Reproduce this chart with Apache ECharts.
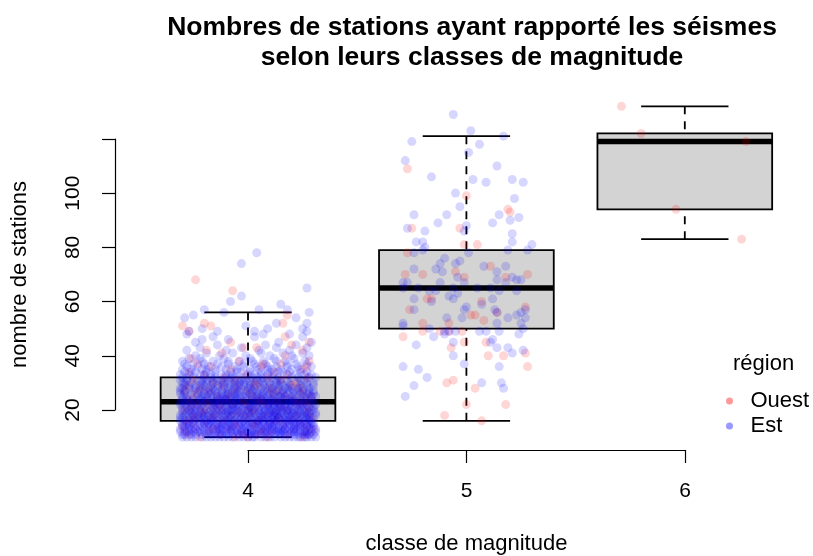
<!DOCTYPE html>
<html>
<head>
<meta charset="utf-8">
<script src="https://cdn.jsdelivr.net/npm/echarts@6/dist/echarts.min.js"></script>
<style>
html, body { margin: 0; background: #fff; }
#chart { width: 813px; height: 556px; }
</style>
</head>
<body>
<div id="chart"></div>
<script>
// classes de magnitude et statistiques des boites
var classes = [4, 5, 6];
var basMoustache = [10, 16, 83];
var q1 = [16, 50, 94];
var mediane = [23, 65, 119];
var q3 = [32, 79, 122];
var hautMoustache = [56, 121, 132];
var yTicks = [20, 40, 60, 80, 100, 120];
var xTicks = [4, 5, 6];

// points : [nombre de stations, decalages du jitter en centiemes de classe...]
var est4 = [
	[10,-28,-19,-11,-4,3,12,21,29,-24,-7,8,17,26,-15,0,-30,24],
	[11,-26,-17,-9,-2,6,14,23,30,-21,-13,1,10,19,27,-29,-5,4,15,-12,25],
	[12,-31,-22,-14,-6,2,9,18,26,-27,-18,-3,5,13,22,29,-10,-1,11,20,-25,7,16],
	[13,-29,-20,-12,-5,1,10,17,24,31,-24,-16,-8,4,14,21,28,-2,8,-26,19,-14,12],
	[14,-30,-23,-15,-7,0,8,16,25,-27,-19,-10,3,11,20,28,-4,6,-12,23,14,-21],
	[15,-28,-18,-11,-3,5,13,22,30,-25,-14,-6,2,10,19,27,-20,7,16,-1,24],
	[16,-31,-24,-16,-9,0,7,15,23,29,-27,-19,-12,-4,4,12,20,26,-7,9,-22,17],
	[17,-27,-20,-13,-5,3,11,18,27,-30,-23,-8,1,9,16,25,-16,6,21,-11,14],
	[18,-29,-21,-14,-6,1,9,17,24,31,-25,-10,-2,6,13,22,28,-18,11,-4,19],
	[19,-26,-18,-10,-3,5,12,20,28,-30,-22,-14,2,10,18,26,-7,15,-16,23],
	[20,-30,-22,-15,-7,0,8,16,25,-26,-19,-11,-3,5,13,21,29,-8,11,19],
	[21,-28,-20,-12,-4,3,10,18,26,-24,-16,-7,1,9,17,24,-2,14,30],
	[22,-31,-23,-15,-8,2,9,17,27,-26,-18,-10,-1,7,15,22,12,-5],
	[23,-27,-19,-11,-3,4,12,21,28,-29,-21,-13,-6,3,10,19,25,-16],
	[24,-30,-21,-13,-5,2,11,19,27,-25,-17,-8,0,8,16,24,-10,6],
	[25,-28,-19,-10,-2,6,14,22,29,-23,-14,-6,4,12,20,-1,26],
	[26,-26,-17,-9,-1,7,15,24,30,-29,-20,-12,1,10,18,27,-5],
	[27,-31,-22,-12,-4,4,13,21,28,-25,-15,-7,2,11,19,25],
	[28,-27,-18,-9,0,8,17,25,-30,-21,-11,-3,6,14,23],
	[29,-29,-20,-11,-2,7,16,24,30,-24,-14,-6,3,12],
	[30,-26,-16,-8,1,10,19,27,-30,-21,-12,-4,5,15],
	[31,-28,-19,-9,-1,9,18,26,-23,-14,-5,4,13],
	[32,-30,-20,-10,2,11,20,28,-25,-15,-6,7],
	[33,-27,-17,-7,3,12,22,29,-22,-12,6],
	[34,-29,-19,-8,1,10,19,27,-24,-3,14],
	[35,-26,-15,-5,5,15,24,-21,-10,9],
	[36,-28,-18,-6,4,13,23,-12,29],
	[37,-25,-14,-2,8,18,27,-20],
	[38,-30,-16,-4,7,17,26],
	[39,-22,-11,1,12,21,-27],
	[40,-24,-13,-1,10,20,28],
	[41,-19,-7,6,16,25],
	[42,-28,-10,5,19],
	[43,-22,-3,13,27],
	[44,-14,8,22],
	[45,-24,29,14],
	[46,-21,-9],
	[47,25,3,-16],
	[48,7,-28,19],
	[49,-27,3,-14,27],
	[50,-21,25,9],
	[51,-1],
	[52,13,27],
	[54,-29,22],
	[55,-25],
	[56,-11,28],
	[57,18,5,-20],
	[59,15],
	[60,-8],
	[62,-3],
	[65,27],
	[74,-3],
	[78,4],
	[10,-26,-13,-2,6,15,23,31,-21,-9,10,19,-17,2,27],
	[11,-30,-19,-7,3,12,21,28,-24,-15,-4,8,17,26,-10,0],
	[12,-28,-16,-8,0,8,15,24,31,-20,-12,3,14,21,-5,27,-23],
	[13,-31,-22,-10,-3,6,15,26,-18,-7,2,11,22,29,-27,17,-13],
	[14,-25,-17,-9,-1,9,18,27,-29,-13,-2,5,12,21,30,-8,24],
	[15,-30,-22,-16,-8,1,9,17,26,-27,-12,-4,4,12,21,29,-18],
	[16,-29,-20,-14,-2,5,13,21,28,-25,-17,-6,2,10,18,24,-10],
	[17,-31,-25,-17,-9,-1,7,14,23,30,-21,-3,5,12,19,28],
	[18,-27,-16,-8,3,12,20,27,-31,-23,-12,-1,7,15,26,-20],
	[19,-28,-20,-12,-5,3,9,16,24,31,-24,-9,0,7,13,21],
	[20,-27,-17,-9,-1,6,14,23,30,-24,-13,-5,2,10,18,27],
	[21,-30,-22,-14,-6,1,7,15,22,28,-26,-10,5,12,20],
	[22,-29,-21,-13,-4,4,11,19,25,31,-16,-7,0,14,24],
	[23,-31,-24,-15,-8,1,8,16,23,30,-26,-10,6,14,20],
	[24,-28,-19,-11,-3,4,13,21,29,-22,-14,-6,10,18],
	[25,-30,-21,-12,-4,2,9,17,25,31,-16,-8,7,15],
	[26,-31,-23,-14,-6,3,12,21,28,-18,-10,5,16],
	[27,-29,-20,-9,-1,7,16,23,30,-17,-5,9],
	[28,-31,-24,-14,-6,3,11,20,28,-16,1,18],
	[29,-27,-17,-8,1,10,19,27,-22,-4,14],
	[30,-29,-19,-11,-2,7,13,23,30,-6],
	[31,-31,-21,-12,-3,6,15,24,-16,1],
	[32,-28,-17,-8,4,14,23,31,-2],
	[33,-31,-20,-10,0,9,18,26],
	[34,-26,-15,-5,6,16,24],
	[35,-30,-19,1,11,20],
	[36,-23,-2,9,18],
	[37,-29,-9,3,22],
	[38,-21,-9,2,13]
];
var ouest4 = [
	[10,-22,-6,9,25,0],
	[11,-27,-13,4,18,28,-2],
	[12,-18,-3,11,26,-29,6],
	[13,-24,-9,7,21,-16,30],
	[14,-30,-14,2,16,27,-6],
	[15,-20,-5,10,24,-26,3],
	[16,-28,-11,5,19,13],
	[17,-17,-1,14,29,-24],
	[18,-25,-8,8,22,-15],
	[19,-21,-4,12,27,1],
	[20,-29,-12,3,18,-20],
	[21,-16,0,15,28,-26],
	[22,-23,-7,9,23,-13],
	[23,-19,-2,13,26,5],
	[24,-27,-10,6,21],
	[25,-14,2,17,29],
	[26,-24,-8,11,25],
	[27,-18,0,14,-29],
	[28,-22,-5,10,24],
	[29,-28,-12,4,20],
	[30,-16,3,22],
	[31,-25,-6,15],
	[32,-11,9,27],
	[33,-20,-1,18],
	[34,-27,12],
	[35,-8,25],
	[36,-17,6,27],
	[37,-23,15,7],
	[38,-4,28],
	[39,-26],
	[40,17],
	[41,-12],
	[42,-19,25],
	[43,-2,4],
	[44,20],
	[45,28,-8],
	[47,17],
	[49,-27],
	[51,-30,-17],
	[52,-20,16],
	[55,18],
	[64,-7],
	[68,-24]
];
var est5 = [
	[129,-6],[123,2],[121,17],[119,-25],[118,6],[115,1],[112,-28],[110,14],
	[106,-16],[105,3,21],[104,9,26],[100,-5],[98,22],[95,-3],[92,-9,-24,15],
	[91,24],[90,20],[89,-13,12],[88,0],[87,-27],[86,-19,-1],[85,21],
	[82,-23,-20,21],[81,30],[80,-19],[79,28,19,-20],[78,-24,1],[76,-10],[75,-3],
	[74,-5,-12],[73,8,18],[72,-14,-24],[71,-11,14],[69,-4,21],[68,14,23,25],
	[67,-27,-29,-12,-1,18],[65,-29,-22,-6,5,11],[64,-17,-14,15,23],[63,-4],[62,-8],
	[61,-24,-6,12],[60,-16],[59,7],[58,0],[57,27,-24,13,-1],[56,14,25],[55,23],
	[54,-9,-2,19,27],[52,-29,14,25],[51,-29],[50,-17,26],[49,-8,-5,6,9,15,-10],
	[48,24,-10],[47,-15],[46,12],[45,-6,11],[44,-23],[43,14,19],[42,26],[41,21],
	[40,-6],[37,-1],[36,15,-29],[35,-22],[32,-18],[30,7,16],[29,-24],[28,17],[25,-28]
];
var ouest5 = [
	[109,-27],[99,0],[94,19],[93,20],[87,-25,-3],[81,-1,5],[78,-27],[73,11],[71,-5],
	[70,-28,-20,28],[69,-1,18],[61,-18,-16],[60,7],[58,27],[57,-26],[56,14],[55,2,4],
	[53,8],[52,-20,-8],[49,-20,-12,-8,-2],[47,-29],[45,-1,9],[43,-7],[41,27],[40,10,17],
	[36,28],[31,-6],[30,-9],[28,4],[22,0,18],[18,-10],[16,7]
];
var ouest6 = [[132,-29],[122,-20],[119,28],[94,-4],[83,26]];

function points(rows, classe) {
	var out = [];
	rows.forEach(function (r) {
		for (var i = 1; i < r.length; i++) {
			out.push([classe + r[i] / 100, r[0]]);
		}
	});
	return out;
}

var boxData = classes.map(function (c, i) {
	return [c, basMoustache[i], q1[i], mediane[i], q3[i], hautMoustache[i]];
});
var dataEst = points(est4, 4).concat(points(est5, 5));
var dataOuest = points(ouest4, 4).concat(points(ouest5, 5), points(ouest6, 6));

var police = 'Liberation Sans, Arial, sans-serif';

function renderBox(params, api) {
	var x = api.value(0);
	var lo = api.coord([x, api.value(1)]);
	var b1 = api.coord([x, api.value(2)]);
	var md = api.coord([x, api.value(3)]);
	var b3 = api.coord([x, api.value(4)]);
	var hi = api.coord([x, api.value(5)]);
	var w = api.size([0.8, 0])[0];
	var dash = {stroke: '#000', lineWidth: 1.8, lineDash: [8, 7]};
	var plein = {stroke: '#000', lineWidth: 1.8};
	return {
		type: 'group',
		children: [
			{type: 'line', shape: {x1: hi[0], y1: hi[1], x2: b3[0], y2: b3[1]}, style: dash},
			{type: 'line', shape: {x1: lo[0], y1: lo[1], x2: b1[0], y2: b1[1]}, style: dash},
			{type: 'line', shape: {x1: hi[0] - w / 4, y1: hi[1], x2: hi[0] + w / 4, y2: hi[1]}, style: plein},
			{type: 'line', shape: {x1: lo[0] - w / 4, y1: lo[1], x2: lo[0] + w / 4, y2: lo[1]}, style: plein},
			{type: 'rect', shape: {x: md[0] - w / 2, y: b3[1], width: w, height: b1[1] - b3[1]},
				style: {fill: '#d3d3d3', stroke: '#000', lineWidth: 1.8}},
			{type: 'line', shape: {x1: md[0] - w / 2, y1: md[1], x2: md[0] + w / 2, y2: md[1]},
				style: {stroke: '#000', lineWidth: 5.5}}
		]
	};
}

var chart = echarts.init(document.getElementById('chart'));
chart.setOption({
	animation: false,
	backgroundColor: '#fff',
	textStyle: {fontFamily: police},
	title: {
		text: 'Nombres de stations ayant rapporté les séismes\nselon leurs classes de magnitude',
		left: 467,
		top: 8,
		textAlign: 'center',
		textStyle: {fontSize: 26.5, fontWeight: 'bold', color: '#000', lineHeight: 30, fontFamily: police}
	},
	graphic: [{
		type: 'text', left: 733, top: 353,
		style: {text: 'région', fontSize: 22, fill: '#000', fontFamily: police}
	}],
	legend: {
		orient: 'vertical',
		left: 721,
		top: 385,
		itemWidth: 32,
		itemHeight: 7,
		itemGap: 3,
		icon: 'circle',
		textStyle: {fontSize: 22, color: '#000', fontFamily: police},
		data: [
			{name: 'Ouest', itemStyle: {color: 'rgba(255,0,0,0.5)'}},
			{name: 'Est', itemStyle: {color: 'rgba(0,0,255,0.5)'}}
		]
	},
	grid: [
		{left: 115, right: 19, top: 105, bottom: 104},
		{left: 115, right: 19, top: 139, bottom: 146},
		{left: 248, right: 128, top: 400, bottom: 104}
	],
	xAxis: [
		{type: 'value', gridIndex: 0, min: 3.391, max: 6.5, show: false},
		{type: 'value', gridIndex: 1, min: 0, max: 1, show: false},
		{
			type: 'value', gridIndex: 2, min: xTicks[0], max: xTicks[xTicks.length - 1], interval: 1,
			name: 'classe de magnitude', nameLocation: 'middle', nameGap: 83,
			nameTextStyle: {fontSize: 22, color: '#000', fontFamily: police},
			axisLine: {show: true, lineStyle: {color: '#000', width: 1.2}},
			axisTick: {show: true, length: 13, lineStyle: {color: '#000', width: 1.2}},
			axisLabel: {fontSize: 21, color: '#000', margin: 31, fontFamily: police},
			splitLine: {show: false}
		}
	],
	yAxis: [
		{type: 'value', gridIndex: 0, min: 4.5, max: 132.5, show: false},
		{
			type: 'value', gridIndex: 1, min: yTicks[0], max: yTicks[yTicks.length - 1], interval: 20,
			name: 'nombre de stations', nameLocation: 'middle', nameGap: 84, nameRotate: 90,
			nameTextStyle: {fontSize: 22, color: '#000', fontFamily: police},
			axisLine: {show: true, lineStyle: {color: '#000', width: 1.2}},
			axisTick: {show: true, length: 13, lineStyle: {color: '#000', width: 1.2}},
			axisLabel: {
				fontSize: 21, color: '#000', rotate: 90, margin: 31, fontFamily: police,
				formatter: function (v) { return v === 120 ? '' : String(v); }
			},
			splitLine: {show: false}
		},
		{type: 'value', gridIndex: 2, min: 0, max: 1, show: false}
	],
	series: [
		{
			type: 'custom', name: 'boites', xAxisIndex: 0, yAxisIndex: 0,
			renderItem: renderBox, data: boxData, z: 1, silent: true
		},
		{
			type: 'scatter', name: 'Ouest', xAxisIndex: 0, yAxisIndex: 0, data: dataOuest,
			symbolSize: 9, itemStyle: {color: 'rgba(255,0,0,0.2)'}, z: 2, silent: true
		},
		{
			type: 'scatter', name: 'Est', xAxisIndex: 0, yAxisIndex: 0, data: dataEst,
			symbolSize: 9, itemStyle: {color: 'rgba(0,0,255,0.2)'}, z: 2, silent: true
		}
	]
});
</script>
</body>
</html>
